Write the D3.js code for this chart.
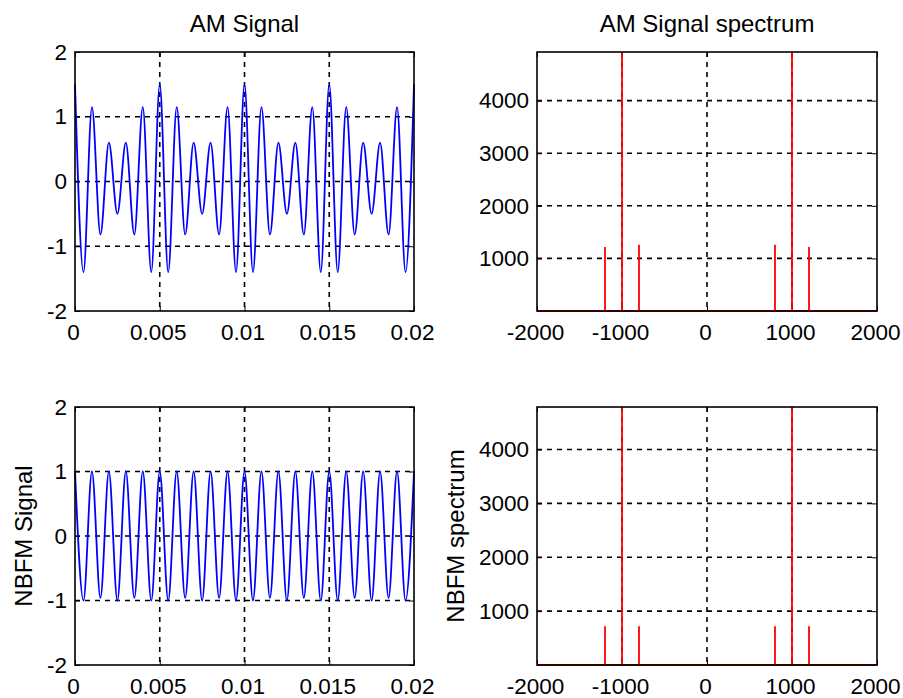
<!DOCTYPE html>
<html>
<head>
<meta charset="utf-8">
<script src="https://cdn.jsdelivr.net/npm/d3@7"></script>
<style>
  body { margin: 0; background: #fff; }
  svg text { font-family: "Liberation Sans", Arial, sans-serif; fill: #000; }
</style>
</head>
<body>
<div class="figure"></div>
<script>
// time signals: value at each half carrier cycle (peaks / troughs)
const tPeaks = [0, 0.0005, 0.001, 0.0015, 0.002, 0.0025, 0.003, 0.0035, 0.004, 0.0045,
  0.005, 0.0055, 0.006, 0.0065, 0.007, 0.0075, 0.008, 0.0085, 0.009, 0.0095,
  0.01, 0.0105, 0.011, 0.0115, 0.012, 0.0125, 0.013, 0.0135, 0.014, 0.0145,
  0.015, 0.0155, 0.016, 0.0165, 0.017, 0.0175, 0.018, 0.0185, 0.019, 0.0195, 0.02];

const amPeaks = [1.5, -1.4, 1.15, -0.82, 0.6, -0.5, 0.6, -0.82, 1.15, -1.4,
  1.5, -1.4, 1.15, -0.82, 0.6, -0.5, 0.6, -0.82, 1.15, -1.4,
  1.5, -1.4, 1.15, -0.82, 0.6, -0.5, 0.6, -0.82, 1.15, -1.4,
  1.5, -1.4, 1.15, -0.82, 0.6, -0.5, 0.6, -0.82, 1.15, -1.4,
  1.5];

const nbfmPeaks = [1, -1, 1, -0.96, 1, -1, 1, -0.96, 1, -1,
  1, -1, 1, -0.96, 1, -1, 1, -0.96, 1, -1,
  1, -1, 1, -0.96, 1, -1, 1, -0.96, 1, -1,
  1, -1, 1, -0.96, 1, -1, 1, -0.96, 1, -1,
  1];

// spectrum lines (carrier +-1000 Hz, sidebands +-800 / +-1200 Hz)
const specFreqs = [-1200, -1000, -800, 800, 1000, 1200];
const amSpec = [1216, 4925, 1260, 1260, 4925, 1216];
const nbfmSpec = [720, 4790, 720, 720, 4790, 720];

// ticks
const timeTicks = [0, 0.005, 0.01, 0.015, 0.02];
const timeLabels = ["0", "0.005", "0.01", "0.015", "0.02"];
const ampTicks = [-2, -1, 0, 1, 2];
const freqTicks = [-2000, -1000, 0, 1000, 2000];
const magTicks = [1000, 2000, 3000, 4000];

const W = 903, H = 698;
const cols = [{ x0: 75, x1: 414 }, { x0: 537, x1: 877 }];
const rows = [{ y0: 52, y1: 311 }, { y0: 407, y1: 665 }];

const svg = d3.select("div.figure")
  .append("svg")
  .attr("width", W)
  .attr("height", H);

// plain hyphen minus, like the original figure
const plain = d => String(d);

// one subplot: box, dashed grid, inward ticks, labels
function panel(col, row, opt) {
  const x = d3.scaleLinear().domain(opt.xDomain).range([col.x0, col.x1]);
  const y = d3.scaleLinear().domain(opt.yDomain).range([row.y1, row.y0]);
  const g = svg.append("g");

  // grid
  const xIn = opt.xTicks.filter(v => v > opt.xDomain[0] && v < opt.xDomain[1]);
  const yIn = opt.yTicks.filter(v => v > opt.yDomain[0] && v < opt.yDomain[1]);
  g.selectAll("line.gx").data(xIn).enter().append("line")
    .attr("x1", d => x(d)).attr("x2", d => x(d))
    .attr("y1", row.y0).attr("y2", row.y1)
    .attr("stroke", "#000").attr("stroke-width", 1.6).attr("stroke-dasharray", "5,5");
  g.selectAll("line.gy").data(yIn).enter().append("line")
    .attr("x1", col.x0).attr("x2", col.x1)
    .attr("y1", d => y(d)).attr("y2", d => y(d))
    .attr("stroke", "#000").attr("stroke-width", 1.6).attr("stroke-dasharray", "5,5");

  // axes with ticks pointing inwards
  const fmtX = opt.xLabels ? (d, i) => opt.xLabels[i] : plain;
  const bottom = g.append("g").attr("transform", `translate(0,${row.y1})`)
    .call(d3.axisBottom(x).tickValues(opt.xTicks).tickSize(-5).tickPadding(13).tickFormat(fmtX));
  const left = g.append("g").attr("transform", `translate(${col.x0},0)`)
    .call(d3.axisLeft(y).tickValues(opt.yTicks).tickSize(-5).tickPadding(8).tickFormat(plain));
  const top = g.append("g").attr("transform", `translate(0,${row.y0})`)
    .call(d3.axisTop(x).tickValues(opt.xTicks).tickSize(-5).tickFormat(""));
  const right = g.append("g").attr("transform", `translate(${col.x1},0)`)
    .call(d3.axisRight(y).tickValues(opt.yTicks).tickSize(-5).tickFormat(""));

  [bottom, left, top, right].forEach(a => {
    a.select(".domain").remove();
    a.selectAll(".tick line").attr("stroke", "#000");
    a.selectAll(".tick text")
      .attr("font-family", "Liberation Sans, Arial, sans-serif")
      .attr("font-size", "22.5px")
      .attr("fill", "#222");
  });
  bottom.selectAll(".tick text").attr("dx", "-2");

  if (opt.title) {
    svg.append("text")
      .attr("x", (col.x0 + col.x1) / 2).attr("y", row.y0 - 20)
      .attr("text-anchor", "middle").attr("font-size", "24px")
      .attr("fill", "#222")
      .text(opt.title);
  }
  if (opt.ylabel) {
    svg.append("text")
      .attr("transform", `translate(${opt.ylabelX},${(row.y0 + row.y1) / 2}) rotate(-90)`)
      .attr("text-anchor", "middle").attr("font-size", "24px")
      .attr("fill", "#222")
      .text(opt.ylabel);
  }

  const plot = svg.append("g");
  svg.append("rect")
    .attr("x", col.x0).attr("y", row.y0)
    .attr("width", col.x1 - col.x0).attr("height", row.y1 - row.y0)
    .attr("fill", "none").attr("stroke", "#000").attr("stroke-width", 1.6);
  return { x, y, plot };
}

function timePlot(col, row, values, title, ylabel) {
  const p = panel(col, row, {
    xDomain: [0, 0.02], yDomain: [-2, 2],
    xTicks: timeTicks, xLabels: timeLabels, yTicks: ampTicks,
    title: title, ylabel: ylabel, ylabelX: 32
  });
  const pts = tPeaks.map((t, i) => ({ t: t, v: values[i] }));
  const line = d3.line()
    .x(d => p.x(d.t))
    .y(d => p.y(d.v))
    .curve(d3.curveMonotoneX);
  p.plot.append("path")
    .datum(pts)
    .attr("d", line)
    .attr("fill", "none")
    .attr("stroke", "#0000ff")
    .attr("stroke-width", 1.8);
}

function specPlot(col, row, mags, title, ylabel) {
  const p = panel(col, row, {
    xDomain: [-2000, 2000], yDomain: [0, d3.max(mags)],
    xTicks: freqTicks, yTicks: magTicks,
    title: title, ylabel: ylabel, ylabelX: 464
  });
  // baseline with a spike at every line of the spectrum
  const pts = [{ f: -2000, m: 0 }];
  specFreqs.forEach((f, i) => {
    pts.push({ f: f, m: 0 }, { f: f, m: mags[i] }, { f: f, m: 0 });
  });
  pts.push({ f: 2000, m: 0 });
  const line = d3.line().x(d => p.x(d.f)).y(d => p.y(d.m));
  p.plot.append("path")
    .datum(pts)
    .attr("d", line)
    .attr("fill", "none")
    .attr("stroke", "#ff0000")
    .attr("stroke-width", 1.8);
}

timePlot(cols[0], rows[0], amPeaks, "AM Signal", null);
specPlot(cols[1], rows[0], amSpec, "AM Signal spectrum", null);
timePlot(cols[0], rows[1], nbfmPeaks, null, "NBFM Signal");
specPlot(cols[1], rows[1], nbfmSpec, null, "NBFM spectrum");
</script>
</body>
</html>
